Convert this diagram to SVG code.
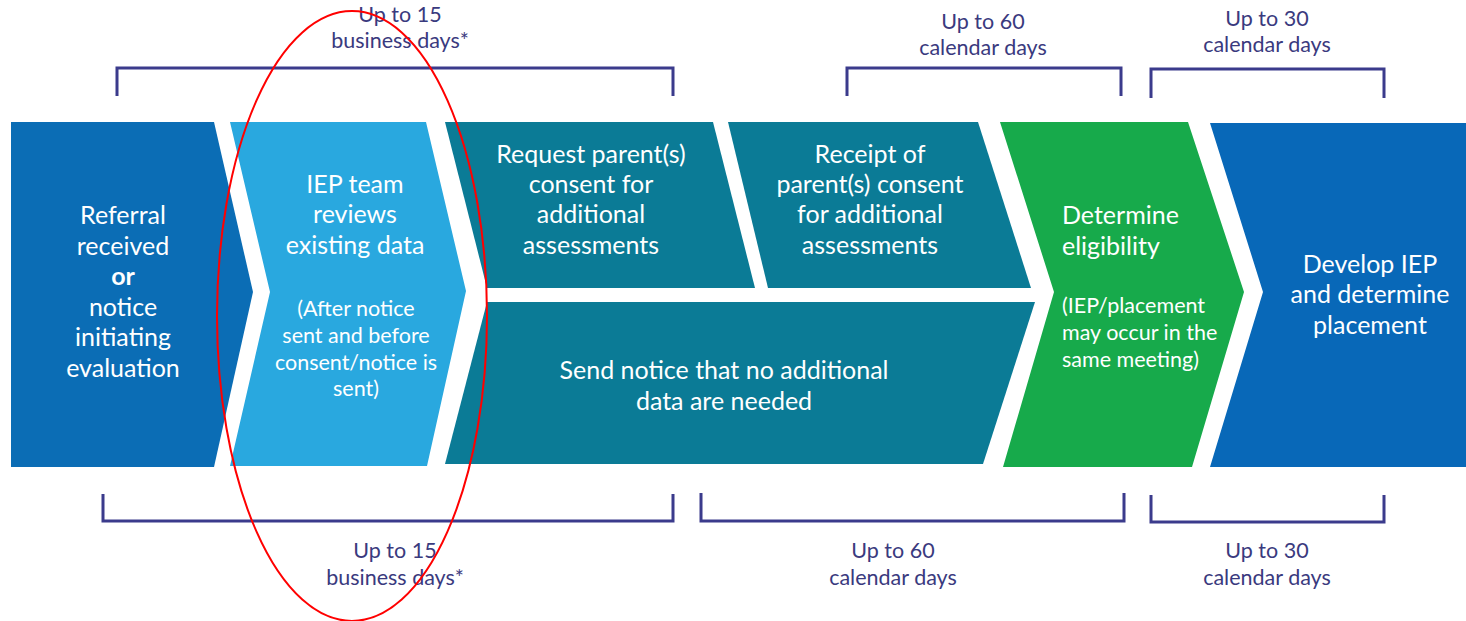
<svg xmlns="http://www.w3.org/2000/svg" width="1466" height="621" viewBox="0 0 1466 621">
<style>
.t{font-family:Lato,"Open Sans","Liberation Sans",sans-serif;fill:#ffffff;text-anchor:middle}
.b{font-size:25px}
.s{font-size:21.5px}
.l{text-anchor:start}
.lab{font-family:Lato,"Open Sans","Liberation Sans",sans-serif;fill:#3a3a7e;font-size:21.5px;text-anchor:middle}
.br{fill:none;stroke:#3b3b8c;stroke-width:3}
</style>
<rect width="1466" height="621" fill="#ffffff"/>
<g id="node-referral">
<polygon points="11,122 214,122 253,292 214,467 11,467" fill="#0b6db5"/>
<text class="t b" x="123" y="224">Referral</text>
<text class="t b" x="123" y="255">received</text>
<text class="t b" x="123" y="285" font-weight="bold">or</text>
<text class="t b" x="123" y="316">notice</text>
<text class="t b" x="123" y="346">initiating</text>
<text class="t b" x="123" y="377">evaluation</text>
</g>
<g id="node-iep-review">
<polygon points="230,122 426,122 466,291 427,466 230,466 270,292" fill="#29a8df"/>
<text class="t b" x="355" y="193">IEP team</text>
<text class="t b" x="355" y="223">reviews</text>
<text class="t b" x="355" y="254">existing data</text>
<text class="t s" x="356" y="316">(After notice</text>
<text class="t s" x="356" y="343">sent and before</text>
<text class="t s" x="356" y="370">consent/notice is</text>
<text class="t s" x="356" y="396">sent)</text>
</g>
<g id="node-request">
<polygon points="445,122 713,122 755,288 487,288" fill="#0b7b96"/>
<text class="t b" x="591" y="163">Request parent(s)</text>
<text class="t b" x="591" y="193">consent for</text>
<text class="t b" x="591" y="223">additional</text>
<text class="t b" x="591" y="254">assessments</text>
</g>
<g id="node-receipt">
<polygon points="728,122 978,122 1031,288 768,288" fill="#0b7b96"/>
<text class="t b" x="870" y="163">Receipt of</text>
<text class="t b" x="870" y="193">parent(s) consent</text>
<text class="t b" x="870" y="223">for additional</text>
<text class="t b" x="870" y="254">assessments</text>
</g>
<g id="node-send-notice">
<polygon points="487,302 1035,302 983,464 445,464" fill="#0b7b96"/>
<text class="t b" x="724" y="379">Send notice that no additional</text>
<text class="t b" x="724" y="410">data are needed</text>
</g>
<g id="node-eligibility">
<polygon points="1000,122 1188,122 1244,292 1192,467 1003,467 1054,292" fill="#17aa4b"/>
<text class="t b l" x="1062" y="224">Determine</text>
<text class="t b l" x="1062" y="255">eligibility</text>
<text class="t s l" x="1062" y="313">(IEP/placement</text>
<text class="t s l" x="1062" y="340">may occur in the</text>
<text class="t s l" x="1062" y="367">same meeting)</text>
</g>
<g id="node-develop">
<polygon points="1210,123 1466,123 1466,467 1210,467 1263,292" fill="#0868b8"/>
<text class="t b" x="1370" y="273">Develop IEP</text>
<text class="t b" x="1370" y="303">and determine</text>
<text class="t b" x="1370" y="334">placement</text>
</g>
<g id="connectors">
<polyline class="br" points="117,96 117,68 673,68 673,96"/>
<polyline class="br" points="847,96 847,68 1121,68 1121,96"/>
<polyline class="br" points="1151,98 1151,69 1384,69 1384,98"/>
<polyline class="br" points="103,494 103,521 673,521 673,494"/>
<polyline class="br" points="701,493 701,521 1124,521 1124,493"/>
<polyline class="br" points="1151,495 1151,522 1384,522 1384,495"/>
</g>
<g id="labels">
<text class="lab" x="400" y="22">Up to 15</text>
<text class="lab" x="400" y="48">business days*</text>
<text class="lab" x="983" y="29">Up to 60</text>
<text class="lab" x="983" y="55">calendar days</text>
<text class="lab" x="1267" y="26">Up to 30</text>
<text class="lab" x="1267" y="52">calendar days</text>
<text class="lab" x="395" y="558">Up to 15</text>
<text class="lab" x="395" y="585">business days*</text>
<text class="lab" x="893" y="558">Up to 60</text>
<text class="lab" x="893" y="585">calendar days</text>
<text class="lab" x="1267" y="558">Up to 30</text>
<text class="lab" x="1267" y="585">calendar days</text>
</g>
<g id="annotation">
<ellipse cx="352" cy="316" rx="135" ry="305" fill="none" stroke="#ff0000" stroke-width="2"/>
</g>
</svg>
